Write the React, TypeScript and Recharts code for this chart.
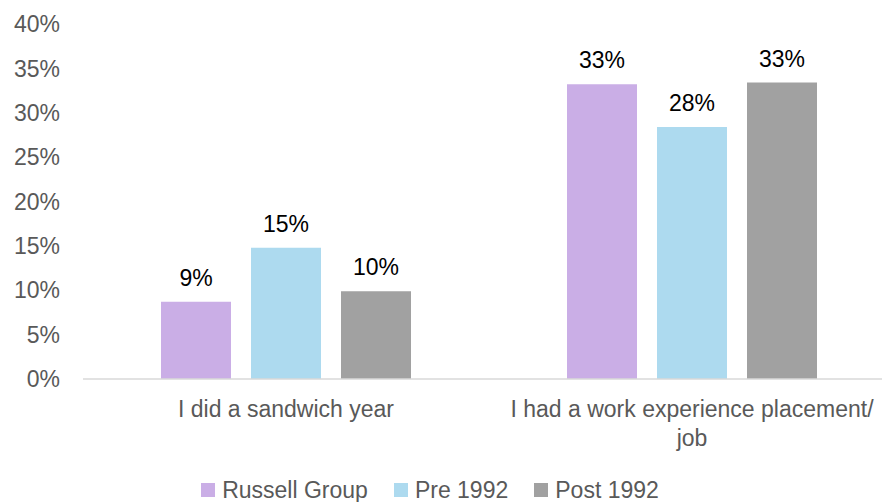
import { BarChart, Bar, XAxis, YAxis, Legend, LabelList } from 'recharts';

const FONT = '"Liberation Sans", Arial, sans-serif';
const AXIS_GREY = '#595959';

const categories = ['I did a sandwich year', 'I had a work experience placement/ job'];
const russellGroup = [8.7, 33.2];
const pre1992 = [14.8, 28.4];
const post1992 = [9.9, 33.4];
const yTicks = [0, 5, 10, 15, 20, 25, 30, 35, 40];

const seriesNames = ['Russell Group', 'Pre 1992', 'Post 1992'];
const seriesKeys = ['russell', 'pre', 'post'];
const seriesColors = ['#caaee6', '#addaef', '#a1a1a1'];

const data = categories.map((category, i) => ({
  category,
  russell: russellGroup[i],
  pre: pre1992[i],
  post: post1992[i],
}));

/** Etiqueta del eje X: corta después de "/ " como en el original. */
function CategoryTick({ x, y, payload }: any) {
  const text: string = payload.value;
  const cut = text.indexOf('/ ');
  const lines = cut >= 0 ? [text.slice(0, cut + 1), text.slice(cut + 2)] : [text];
  return (
    <text x={x} y={y} textAnchor="middle" fill={AXIS_GREY} fontSize={23} fontFamily={FONT}>
      {lines.map((line, i) => (
        <tspan key={i} x={x} dy={i === 0 ? 38 : 29}>
          {line}
        </tspan>
      ))}
    </text>
  );
}

function LegendContent() {
  return (
    <div style={{ display: 'flex', alignItems: 'center', justifyContent: 'center', height: 24 }}>
      {seriesNames.map((name, i) => (
        <div
          key={name}
          style={{ display: 'flex', alignItems: 'center', marginRight: i < seriesNames.length - 1 ? 26 : 0 }}
        >
          <span style={{ width: 14, height: 14, background: seriesColors[i], marginRight: 7, flex: 'none' }} />
          <span style={{ fontFamily: FONT, fontSize: 23, lineHeight: '24px', color: AXIS_GREY, whiteSpace: 'nowrap' }}>
            {name}
          </span>
        </div>
      ))}
    </div>
  );
}

export default function App() {
  return (
    <div style={{ position: 'absolute', left: 0, top: 0, width: 882, height: 502, overflow: 'hidden', background: '#fff' }}>
      <BarChart
        width={896}
        height={502}
        data={data}
        margin={{ top: 24, right: 1, bottom: 24, left: 0 }}
        barSize={70}
        barGap={20}
      >
        <XAxis
          dataKey="category"
          axisLine={{ stroke: '#d9d9d9', strokeWidth: 1.5 }}
          tickLine={false}
          tickSize={0}
          tickMargin={0}
          height={75}
          interval={0}
          tick={<CategoryTick />}
        />
        <YAxis
          domain={[0, 40]}
          ticks={yTicks}
          width={83}
          axisLine={false}
          tickLine={false}
          tickSize={0}
          tickMargin={23}
          tickFormatter={(v: number) => `${v}%`}
          tick={{ fill: AXIS_GREY, fontSize: 23, fontFamily: FONT }}
        />
        <Legend
          verticalAlign="bottom"
          content={<LegendContent />}
          wrapperStyle={{ top: 478, left: 0, width: 860, height: 24 }}
        />
        {seriesKeys.map((key, i) => (
          <Bar key={key} dataKey={key} name={seriesNames[i]} fill={seriesColors[i]} isAnimationActive={false}>
            <LabelList
              dataKey={key}
              position="top"
              offset={16}
              formatter={(v: any) => `${Math.round(Number(v))}%`}
              style={{ fill: '#000', fontSize: 23, fontFamily: FONT }}
            />
          </Bar>
        ))}
      </BarChart>
    </div>
  );
}
